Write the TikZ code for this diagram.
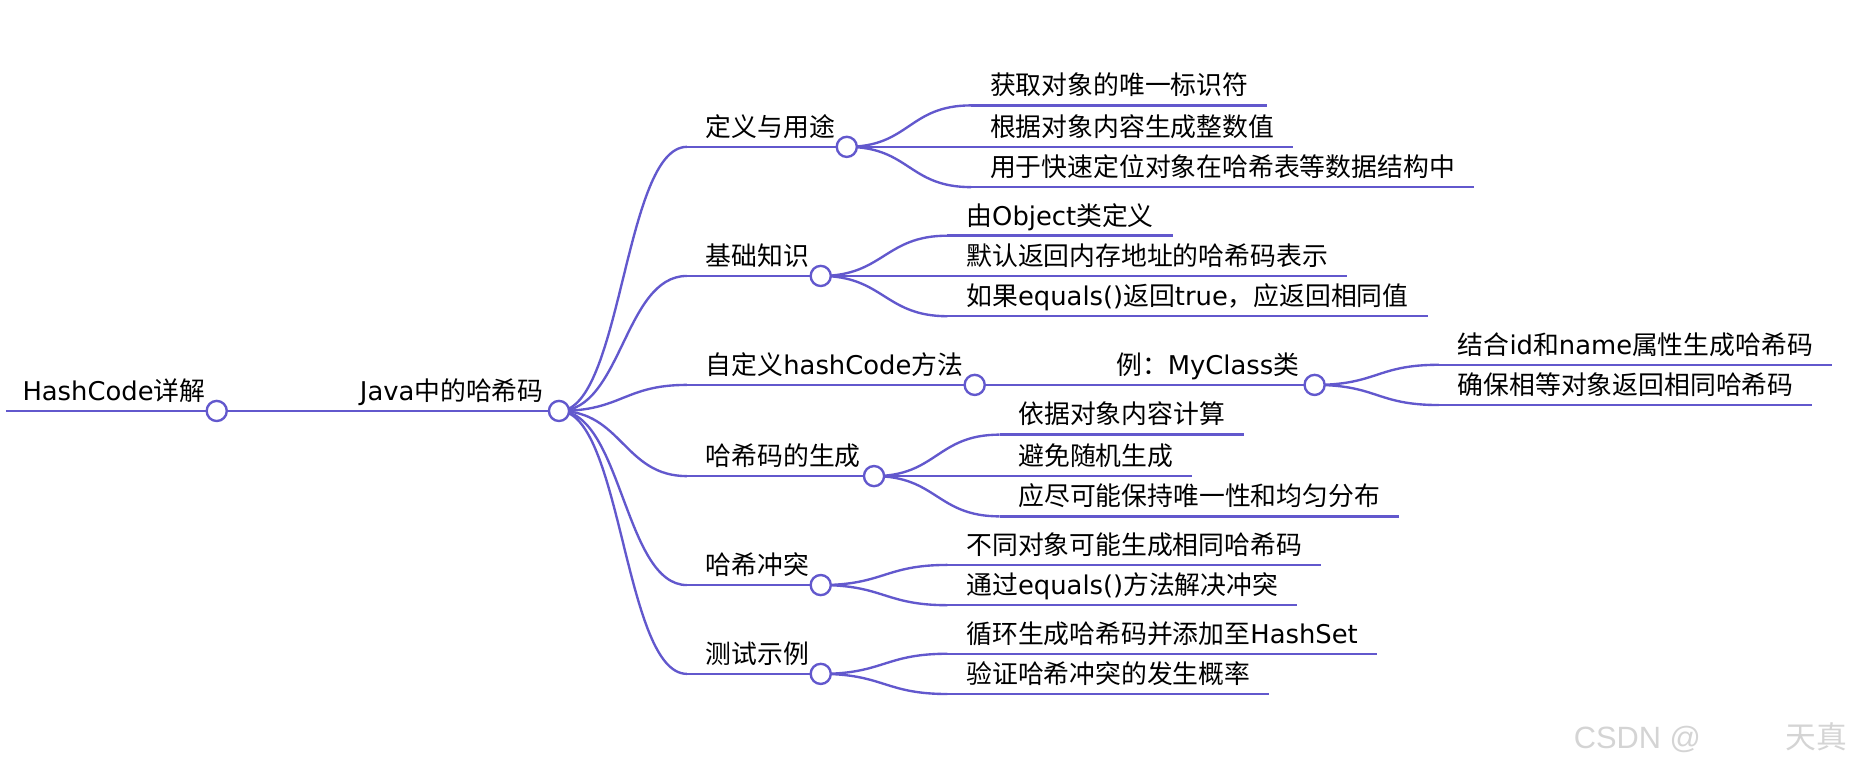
\documentclass[tikz,border=0pt]{standalone}
\usepackage{fontspec}
\setmainfont{Noto Sans CJK SC}
\newfontfamily\latin{DejaVu Sans}
\newfontfamily\wmfont{Liberation Sans}
\newcommand{\lat}[1]{{\latin #1}}
\definecolor{mapblue}{RGB}{98,88,205}

\begin{document}
\begin{tikzpicture}[x=1pt, y=-1pt, line width=2pt, mapblue,
font=\fontsize{21.8}{26}\selectfont,
lbl/.style={anchor=south west, inner xsep=15pt, inner ysep=8pt, text depth=0pt, text=black},
lblr/.style={lbl, anchor=south east, inner xsep=12pt},
dot/.style={draw=mapblue, fill=white},
branch/.style={to path={.. controls +(53,0) and +(-53,0) .. (\tikztotarget)}}]
  \useasboundingbox (0,0) rectangle (1568,651);
  % root and main topic
  \node[lbl, inner xsep=13pt] (root) at (5,347) {\lat{HashCode}详解};
  \coordinate (rd) at (183,347);
  \node[lblr] (java) at (472,347) {\lat{Java}中的哈希码};
  \coordinate (jd) at (472,347);
  % 6 topics
  \node[lbl] (a) at (580,124) {定义与用途};
  \coordinate (ad) at (715,124);
  \node[lbl] (b) at (580,233) {基础知识};
  \coordinate (bd) at (693,233);
  \node[lbl] (c) at (580,325) {自定义\lat{hashCode}方法};
  \coordinate (cd) at (823,325);
  \node[lbl] (d) at (580,402) {哈希码的生成};
  \coordinate (dd) at (738,402);
  \node[lbl] (e) at (580,494) {哈希冲突};
  \coordinate (ed) at (693,494);
  \node[lbl] (f) at (580,569) {测试示例};
  \coordinate (fd) at (693,569);
  % leaves
  \node[lbl] (a1) at (820,89)  {获取对象的唯一标识符};
  \node[lbl] (a2) at (820,124) {根据对象内容生成整数值};
  \node[lbl] (a3) at (820,158) {用于快速定位对象在哈希表等数据结构中};
  \node[lbl] (b1) at (800,199) {由\lat{Object}类定义};
  \node[lbl] (b2) at (800,233) {默认返回内存地址的哈希码表示};
  \node[lbl] (b3) at (800,267) {如果\lat{equals()}返回\lat{true}，应返回相同值};
  \node[lblr] (c1) at (1110,325) {例：\lat{MyClass}类};
  \coordinate (md) at (1110,325);
  \node[lbl] (c11) at (1215,308) {结合\lat{id}和\lat{name}属性生成哈希码};
  \node[lbl] (c12) at (1215,342) {确保相等对象返回相同哈希码};
  \node[lbl] (d1) at (844,367) {依据对象内容计算};
  \node[lbl] (d2) at (844,402) {避免随机生成};
  \node[lbl] (d3) at (844,436) {应尽可能保持唯一性和均匀分布};
  \node[lbl] (e1) at (800,477) {不同对象可能生成相同哈希码};
  \node[lbl] (e2) at (800,511) {通过\lat{equals()}方法解决冲突};
  \node[lbl] (f1) at (800,552) {循环生成哈希码并添加至\lat{HashSet}};
  \node[lbl] (f2) at (800,586) {验证哈希冲突的发生概率};

  % underlines
  \draw (root.south west) -- (rd) -- (jd);
  \draw (c.south west) -- (cd) -- (md);
\foreach \n/\d in {a/ad,b/bd,d/dd,e/ed,f/fd}
    \draw (\n.south west) -- (\d);
\foreach \n in {a1,a2,a3,b1,b2,b3,c11,c12,d1,d2,d3,e1,e2,f1,f2}
    \draw (\n.south west) -- (\n.south east);
  % branches
\foreach \from/\to in {jd/a,jd/b,jd/c,jd/d,jd/e,jd/f,ad/a1,ad/a2,ad/a3,bd/b1,bd/b2,bd/b3,
    md/c11,md/c12,dd/d1,dd/d2,dd/d3,ed/e1,ed/e2,fd/f1,fd/f2}
    \draw[branch] (\from) to (\to.south west);
  % circles
\foreach \d in {rd,jd,ad,bd,cd,md,dd,ed,fd}
    \draw[dot] (\d) circle (8.5pt);

  % watermark
  \node[anchor=base west, inner sep=0pt, text=black!17, font=\wmfont\fontsize{26}{30}\selectfont] (wm1) at (1328,632) {CSDN @};
  \node[anchor=base west, inner sep=0pt, text=black!17, font=\fontsize{26}{30}\selectfont] (wm2) at (1507,632) {天真};
\end{tikzpicture}
\end{document}
